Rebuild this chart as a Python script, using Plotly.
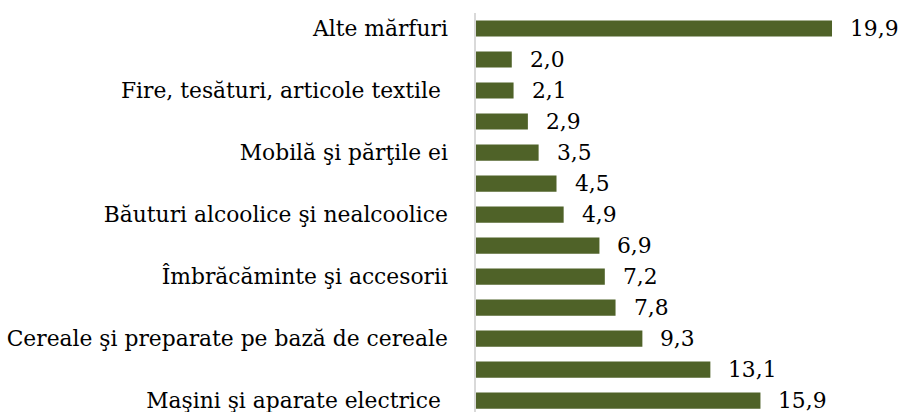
import plotly.graph_objects as go

# Product groups, bottom to top; only every other group carries an axis label
values = [15.9, 13.1, 9.3, 7.8, 7.2, 6.9, 4.9, 4.5, 3.5, 2.9, 2.1, 2.0, 19.9]
tick_positions = [0, 2, 4, 6, 8, 10, 12]
tick_labels = [
    "Maşini şi aparate electrice\u00a0",
    "Cereale şi preparate pe bază de cereale",
    "Îmbrăcăminte şi accesorii",
    "Băuturi alcoolice şi nealcoolice",
    "Mobilă şi părţile ei",
    "Fire, tesături, articole textile\u00a0",
    "Alte mărfuri",
]

BAR_COLOR = "#4F6228"
FONT = "DejaVu Serif"
FONT_SIZE = 21.8

positions = list(range(len(values)))

fig = go.Figure(
    go.Bar(
        x=values,
        y=positions,
        orientation="h",
        marker=dict(color=BAR_COLOR, line=dict(width=0)),
        width=0.52,
        hoverinfo="skip",
    )
)

for v, p in zip(values, positions):
    fig.add_annotation(
        x=v, y=p, text=f"{v:.1f}".replace(".", ","),
        xanchor="left", yanchor="middle", xshift=16, showarrow=False,
        font=dict(family=FONT, size=FONT_SIZE, color="#000000"),
    )

fig.update_layout(
    width=904, height=412,
    margin=dict(l=476, r=60, t=13, b=0),
    paper_bgcolor="white", plot_bgcolor="white",
    showlegend=False,
    font=dict(family=FONT, size=FONT_SIZE, color="#000000"),
)
fig.update_xaxes(range=[0, 20.57], visible=False, showgrid=False, zeroline=False)
fig.update_yaxes(
    range=[-0.365, 12.5],
    tickmode="array", tickvals=tick_positions, ticktext=tick_labels,
    showline=True, linecolor="#d9d9d9", linewidth=1.5,
    ticks="", ticklen=0, showgrid=False, zeroline=False,
    ticklabelstandoff=22, ticklabeloverflow="allow",
    tickfont=dict(family=FONT, size=FONT_SIZE, color="#000000"),
)

fig.write_html("out.html")
